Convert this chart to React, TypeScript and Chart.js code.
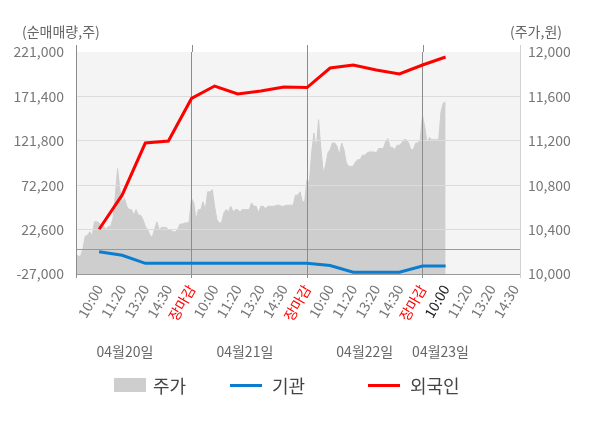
import { useEffect, useRef } from "react";
import { Chart, registerables } from "chart.js";

Chart.register(...registerables);

const FONT = "'Noto Sans CJK KR', 'Noto Sans', sans-serif";

// x tick labels, one per slot (4 days, 5 slots each, last day cut short)
const TIME_LABELS = [
  "10:00", "11:20", "13:20", "14:30", "장마감",
  "10:00", "11:20", "13:20", "14:30", "장마감",
  "10:00", "11:20", "13:20", "14:30", "장마감",
  "10:00", "11:20", "13:20", "14:30",
];
const DATES = ["04월20일", "04월21일", "04월22일", "04월23일"];

const FLOW_TICKS = [-27000, 22600, 72200, 121800, 171400, 221000];
const PRICE_TICKS = [10000, 10400, 10800, 11200, 11600, 12000];

// cumulative net buying (shares), at 10:00 .. 장마감 of each day
const FOREIGN = [
  23000, 61300, 119300, 121600, 169100,
  183000, 174100, 177400, 181900, 181300,
  203100, 206500, 200900, 196400, 206500,
  215400,
];
const INSTITUTION = [
  -2100, -6100, -15100, -15100, -15100,
  -15100, -15100, -15100, -15100, -15100,
  -17500, -25100, -25100, -25100, -18100,
  -18100,
];

// intraday price, 50 samples per full day
const PRICE_D1 = [
  10180, 10160, 10160, 10230, 10340, 10350, 10380, 10340, 10470, 10470,
  10460, 10430, 10430, 10400, 10430, 10430, 10500, 10700, 10950, 10760,
  10650, 10680, 10610, 10580, 10580, 10530, 10580, 10530, 10530, 10490,
  10430, 10400, 10350, 10330, 10400, 10470, 10400, 10420, 10420, 10420,
  10400, 10400, 10380, 10380, 10400, 10450, 10450, 10460, 10460, 10470,
];
const PRICE_D2 = [
  10680, 10640, 10490, 10580, 10580, 10650, 10580, 10740, 10740, 10760,
  10610, 10490, 10460, 10460, 10550, 10580, 10560, 10610, 10560, 10580,
  10580, 10560, 10580, 10580, 10580, 10580, 10640, 10610, 10610, 10550,
  10610, 10610, 10590, 10610, 10610, 10610, 10610, 10620, 10620, 10610,
  10610, 10620, 10620, 10620, 10620, 10710, 10710, 10740, 10650, 10650,
];
const PRICE_D3 = [
  10850, 10820, 11090, 11270, 11120, 11390, 11130, 10920, 10970, 11090,
  11120, 11180, 11180, 11150, 11070, 11180, 11120, 11000, 10970, 10970,
  10970, 11010, 11030, 11030, 11070, 11070, 11090, 11100, 11100, 11100,
  11090, 11130, 11130, 11130, 11190, 11220, 11140, 11140, 11120, 11160,
  11160, 11180, 11210, 11210, 11180, 11120, 11120, 11180, 11180, 11210,
];
const PRICE_D4 = [11430, 11320, 11180, 11230, 11210, 11210, 11210, 11210, 11460, 11540, 11550];

const PRICE_DAYS = [PRICE_D1, PRICE_D2, PRICE_D3, PRICE_D4];
const pricePoints = PRICE_DAYS.flatMap((day, d) =>
  day.map((p, k) => ({ x: d * 5 + k * 0.1, y: p }))
);

const fmt = (v: number) => v.toLocaleString("en-US");

const decor = {
  id: "decor",
  beforeDraw(chart: any) {
    const { ctx, chartArea: a } = chart;
    ctx.save();
    ctx.fillStyle = "#f4f4f4";
    ctx.fillRect(a.left, a.top, a.right - a.left, a.bottom - a.top);
    ctx.restore();
  },
  afterDatasetDraw(chart: any, args: any) {
    // grid lies over the price area but under the flow lines
    if (args.index !== 0) return;
    const a = chart.chartArea;
    chart.scales.y.drawGrid(a);
    chart.scales.x.drawGrid(a);
    chart.scales.x.drawBorder();
    chart.scales.y.drawBorder();
    chart.scales.y1.drawBorder();
  },
  afterDraw(chart: any) {
    const { ctx, chartArea: a } = chart;
    const xs = chart.scales.x;
    ctx.save();
    ctx.lineWidth = 1;
    [0, 5, 10, 15].forEach((v) => {
      const px = Math.round(xs.getPixelForValue(v)) + 0.5;
      ctx.strokeStyle = "#8c8c8c";
      ctx.beginPath();
      ctx.moveTo(px, a.top - 7);
      ctx.lineTo(px, a.top);
      ctx.stroke();
    });
    const rx = Math.round(a.right) + 0.5;
    ctx.strokeStyle = "#d0d0d0";
    ctx.beginPath();
    ctx.moveTo(rx, a.top - 7);
    ctx.lineTo(rx, a.top);
    ctx.moveTo(rx, a.bottom);
    ctx.lineTo(rx, a.bottom + 4);
    ctx.stroke();

    ctx.fillStyle = "#666";
    ctx.font = `14px ${FONT}`;
    ctx.textBaseline = "middle";
    ctx.textAlign = "left";
    ctx.fillText("(순매매량,주)", 22, 32);
    ctx.fillText("(주가,원)", 510, 32);

    ctx.textAlign = "center";
    [2.12, 7.31, 12.5, 15.78].forEach((v, i) => {
      ctx.fillText(DATES[i], xs.getPixelForValue(v), 352);
    });

    // legend
    ctx.font = `18px ${FONT}`;
    ctx.textAlign = "left";
    ctx.fillStyle = "#cecece";
    ctx.fillRect(114, 378, 32, 14);
    ctx.fillStyle = "#444";
    ctx.fillText(chart.data.datasets[0].label, 153, 386);
    ctx.lineWidth = 3;
    ctx.strokeStyle = "#0a7dcf";
    ctx.beginPath();
    ctx.moveTo(230, 385.5);
    ctx.lineTo(262, 385.5);
    ctx.stroke();
    ctx.fillText(chart.data.datasets[1].label, 272, 386);
    ctx.strokeStyle = "#ff0000";
    ctx.beginPath();
    ctx.moveTo(368, 385.5);
    ctx.lineTo(400, 385.5);
    ctx.stroke();
    ctx.fillText(chart.data.datasets[2].label, 410, 386);
    ctx.restore();
  },
};

export default function App() {
  const canvasRef = useRef<HTMLCanvasElement>(null);
  const chartRef = useRef<Chart | null>(null);

  useEffect(() => {
    if (!canvasRef.current) return;
    document.body.style.margin = "0";
    Chart.defaults.font.family = FONT;

    chartRef.current?.destroy();
    chartRef.current = new Chart(canvasRef.current, {
      type: "line",
      data: {
        datasets: [
          {
            label: "주가",
            yAxisID: "y1",
            data: pricePoints,
            fill: "start",
            backgroundColor: "#cecece",
            borderColor: "#cecece",
            borderWidth: 1,
            pointRadius: 0,
            order: 3,
          },
          {
            label: "기관",
            yAxisID: "y",
            data: INSTITUTION.map((v, i) => ({ x: i + 1, y: v })),
            borderColor: "#0a7dcf",
            borderWidth: 3,
            pointRadius: 0,
            fill: false,
            order: 2,
          },
          {
            label: "외국인",
            yAxisID: "y",
            data: FOREIGN.map((v, i) => ({ x: i + 1, y: v })),
            borderColor: "#ff0000",
            borderWidth: 3,
            pointRadius: 0,
            fill: false,
            order: 1,
          },
        ],
      },
      options: {
        animation: false,
        responsive: true,
        maintainAspectRatio: false,
        layout: { padding: { top: 52, left: 0, right: 0, bottom: 0 } },
        plugins: { legend: { display: false }, tooltip: { enabled: false } },
        scales: {
          x: {
            type: "linear",
            min: 0,
            max: 19.22,
            afterBuildTicks: (s: any) => {
              s.ticks = Array.from({ length: TIME_LABELS.length + 1 }, (_, i) => ({ value: i }));
            },
            afterFit: (s: any) => {
              s.height = 154;
            },
            grid: {
              color: (c: any) =>
                [0, 5, 10, 15].includes(c.tick?.value) ? "#8c8c8c" : "rgba(0,0,0,0)",
              tickLength: 4,
            },
            border: { color: "#999" },
            ticks: {
              autoSkip: false,
              minRotation: 60,
              maxRotation: 60,
              padding: 4,
              font: { size: 14 },
              color: (c: any) => {
                const lab = TIME_LABELS[c.tick.value - 1];
                if (lab === "장마감") return "#ff0000";
                if (c.tick.value === 16) return "#222";
                return "#777";
              },
              callback: (v: any) => TIME_LABELS[v - 1] ?? "",
            },
          },
          y: {
            position: "left",
            min: FLOW_TICKS[0],
            max: FLOW_TICKS[FLOW_TICKS.length - 1],
            afterBuildTicks: (s: any) => {
              s.ticks = [...FLOW_TICKS, 0].sort((a, b) => a - b).map((value) => ({ value }));
            },
            afterFit: (s: any) => {
              s.width = 76;
            },
            grid: {
              drawTicks: false,
              color: (c: any) => {
                const v = c.tick?.value;
                if (v === 0) return "#999";
                if (v === FLOW_TICKS[0] || v === FLOW_TICKS[FLOW_TICKS.length - 1]) return "rgba(0,0,0,0)";
                return "#dcdcdc";
              },
            },
            border: { color: "#8c8c8c" },
            ticks: {
              padding: 12,
              color: "#777",
              font: { size: 14 },
              callback: (v: any) => (v === 0 ? "" : fmt(v)),
            },
          },
          y1: {
            position: "right",
            min: PRICE_TICKS[0],
            max: PRICE_TICKS[PRICE_TICKS.length - 1],
            afterBuildTicks: (s: any) => {
              s.ticks = PRICE_TICKS.map((value) => ({ value }));
            },
            afterFit: (s: any) => {
              s.width = 80;
            },
            grid: { display: false, drawTicks: false },
            border: { color: "#d0d0d0" },
            ticks: {
              padding: 8,
              color: "#777",
              font: { size: 14 },
              callback: (v: any) => fmt(v),
            },
          },
        },
      },
      plugins: [decor],
    });

    return () => {
      chartRef.current?.destroy();
      chartRef.current = null;
    };
  }, []);

  return (
    <div style={{ position: "relative", width: "600px", height: "428px" }}>
      <canvas ref={canvasRef} />
    </div>
  );
}
